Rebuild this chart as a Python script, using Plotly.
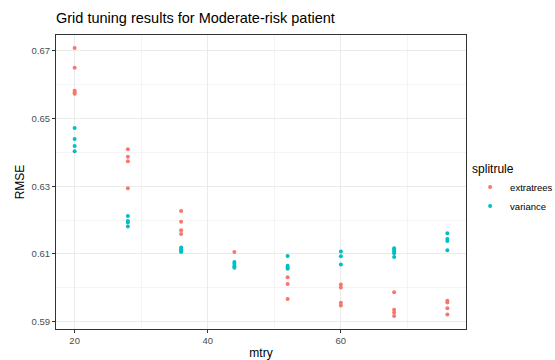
import plotly.graph_objects as go

# Data
mtry_extratrees = [20]*5 + [28]*4 + [36]*4 + [44]*1 + [52]*3 + [60]*4 + [68]*4 + [76]*4
rmse_extratrees = [0.6708, 0.6650, 0.6582, 0.6577, 0.6573,
                   0.6409, 0.6387, 0.6374, 0.6294,
                   0.6227, 0.6195, 0.6170, 0.6159,
                   0.6106,
                   0.6031, 0.6011, 0.5967,
                   0.6010, 0.6001, 0.5956, 0.5948,
                   0.5987, 0.5935, 0.5927, 0.5917,
                   0.5962, 0.5957, 0.5940, 0.5921]

mtry_variance = [20]*4 + [28]*4 + [36]*4 + [44]*4 + [52]*4 + [60]*3 + [68]*5 + [76]*4
rmse_variance = [0.6472, 0.6439, 0.6419, 0.6403,
                 0.6212, 0.6197, 0.6193, 0.6181,
                 0.6119, 0.6114, 0.6110, 0.6106,
                 0.6076, 0.6070, 0.6064, 0.6059,
                 0.6094, 0.6065, 0.6060, 0.6056,
                 0.6107, 0.6093, 0.6069,
                 0.6117, 0.6112, 0.6107, 0.6102, 0.6091,
                 0.6161, 0.6144, 0.6138, 0.6111]

x_ticks = [20, 40, 60]
y_ticks = [0.59, 0.61, 0.63, 0.65, 0.67]

FONT = "Liberation Sans, Arial, sans-serif"

fig = go.Figure()
fig.add_trace(go.Scatter(x=mtry_extratrees, y=rmse_extratrees, mode="markers",
                         name="extratrees",
                         marker=dict(color="#F8766D", size=4, line=dict(width=0))))
fig.add_trace(go.Scatter(x=mtry_variance, y=rmse_variance, mode="markers",
                         name="variance",
                         marker=dict(color="#00BFC4", size=4, line=dict(width=0))))

axis_common = dict(
    showline=True, linecolor="#333333", linewidth=1, mirror=True,
    showgrid=True, gridcolor="#EBEBEB", gridwidth=1.1,
    zeroline=False, automargin=False,
    ticks="outside", ticklen=3, tickcolor="#333333", tickwidth=1,
    tickfont=dict(family=FONT, size=9.5, color="#4D4D4D"),
    title_font=dict(family=FONT, size=12, color="#000000"),
)

fig.update_layout(
    width=555, height=360,
    margin=dict(l=56, r=89, t=35, b=31, autoexpand=False),
    paper_bgcolor="white", plot_bgcolor="white",
    title=dict(text="Grid tuning results for Moderate-risk patient",
               x=0, xref="paper", xanchor="left",
               y=1 - 18/360, yanchor="middle",
               font=dict(family=FONT, size=14.5, color="#000000")),
    xaxis=dict(axis_common, range=[17.2, 78.8], tickvals=x_ticks,
               ticktext=[str(v) for v in x_ticks],
               title=dict(text="mtry", standoff=4),
               minor=dict(tickvals=[30, 50, 70], showgrid=True, gridcolor="#F4F4F4", gridwidth=0.6, ticks="")),
    yaxis=dict(axis_common, range=[0.58784, 0.67464], tickvals=y_ticks,
               ticktext=[f"{v:.2f}" for v in y_ticks],
               title=dict(text="RMSE", standoff=4),
               minor=dict(tickvals=[0.60, 0.62, 0.64, 0.66], showgrid=True, gridcolor="#F4F4F4", gridwidth=0.6, ticks="")),
    legend=dict(x=1.01, xanchor="left", y=0.585, yanchor="top",
                title=dict(text="splitrule", font=dict(family=FONT, size=12, color="#000000")),
                font=dict(family=FONT, size=9.5, color="#000000"),
                itemsizing="trace", tracegroupgap=0, bgcolor="rgba(0,0,0,0)"),
    showlegend=True,
)

fig.write_html("out.html")
